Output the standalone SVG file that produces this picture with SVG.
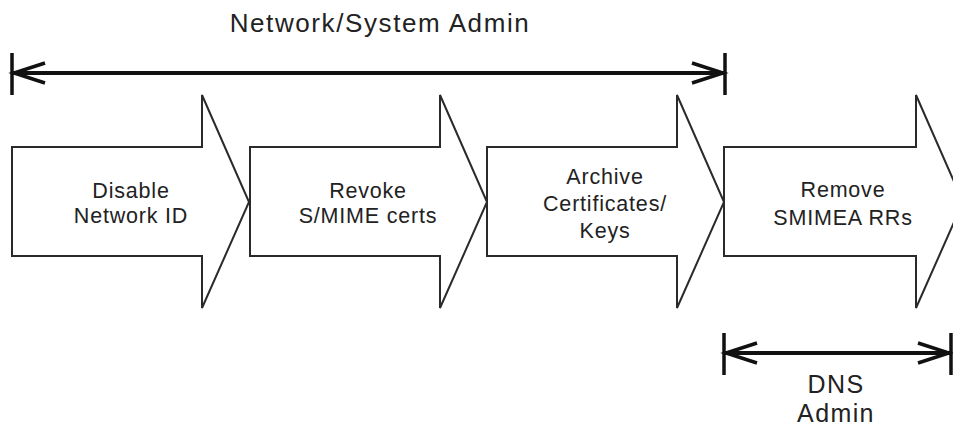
<svg xmlns="http://www.w3.org/2000/svg" width="953" height="430" viewBox="0 0 953 430">
<style>
.shape{fill:#fff;stroke:#2a2a2a;stroke-width:2;stroke-linejoin:miter}
.lbl{font-family:"Liberation Sans",Arial,sans-serif;font-size:21.5px;letter-spacing:0.8px;fill:#222;text-anchor:middle}
.big{font-family:"Liberation Sans",Arial,sans-serif;font-size:26px;letter-spacing:1.6px;fill:#222;text-anchor:middle}
.dns{font-family:"Liberation Sans",Arial,sans-serif;font-size:25px;letter-spacing:1.4px;fill:#222;text-anchor:middle}
.bar{stroke:#111;stroke-width:3.5;fill:none}
.line{stroke:#111;stroke-width:4;fill:none}
.chev{stroke:#111;stroke-width:3.5;fill:none;stroke-linejoin:miter}
</style>
<rect width="953" height="430" fill="#fff"/>
<g id="step1">
<polygon class="shape" points="12,147 202,147 202,95 249,202 202,308 202,256 12,256"/>
<text class="lbl" x="131" y="198">Disable</text>
<text class="lbl" x="131" y="223">Network ID</text>
</g>
<g id="step2">
<polygon class="shape" points="250,147 440,147 440,95 487,202 440,308 440,256 250,256"/>
<text class="lbl" x="368" y="198">Revoke</text>
<text class="lbl" x="368" y="223">S/MIME certs</text>
</g>
<g id="step3">
<polygon class="shape" points="487,147 677,147 677,95 724,202 677,308 677,256 487,256"/>
<text class="lbl" x="605" y="184">Archive</text>
<text class="lbl" x="605" y="211">Certificates/</text>
<text class="lbl" x="605" y="238">Keys</text>
</g>
<g id="step4">
<polygon class="shape" points="724,147 916,147 916,95 963,202 916,308 916,256 724,256"/>
<text class="lbl" x="843" y="197">Remove</text>
<text class="lbl" x="843" y="225">SMIMEA RRs</text>
</g>
<g id="connectors">
<g id="span-admin">
<line class="bar" x1="12" y1="53" x2="12" y2="95"/>
<line class="bar" x1="725" y1="53" x2="725" y2="95"/>
<line class="line" x1="13" y1="73" x2="724" y2="73"/>
<polyline class="chev" points="45,63 14,73 45,83"/>
<polyline class="chev" points="692,63 723,73 692,83"/>
</g>
<g id="span-dns">
<line class="bar" x1="724" y1="333" x2="724" y2="375"/>
<line class="bar" x1="951" y1="333" x2="951" y2="375"/>
<line class="line" x1="725" y1="353" x2="950" y2="353"/>
<polyline class="chev" points="757,343 726,353 757,363"/>
<polyline class="chev" points="918,343 949,353 918,363"/>
</g>
</g>
<g id="labels">
<text class="big" x="380" y="32">Network/System Admin</text>
<text class="dns" x="836" y="393">DNS</text>
<text class="dns" x="836" y="422">Admin</text>
</g>
</svg>
